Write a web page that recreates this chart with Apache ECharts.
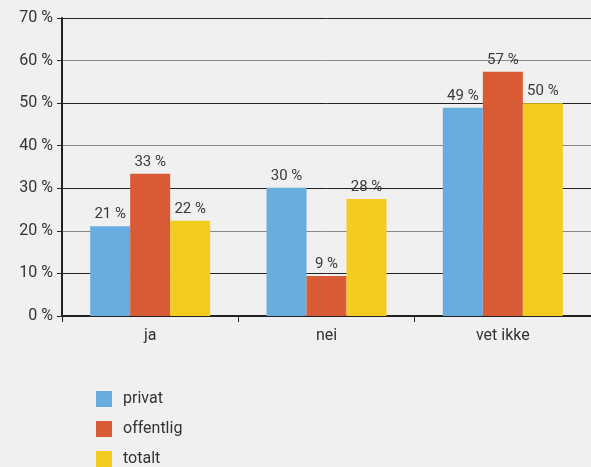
<!DOCTYPE html>
<html><head><meta charset="utf-8">
<script src="https://cdn.jsdelivr.net/npm/echarts@6/dist/echarts.min.js"></script>
<style>html,body{margin:0;padding:0;background:#eff0ef;}#c{width:591px;height:467px;}</style>
</head><body><div id="c"></div>
<script>
const categories = ['ja', 'nei', 'vet ikke'];
const privat = [21.1, 30.1, 48.9];
const offentlig = [33.4, 9.4, 57.4];
const totalt = [22.4, 27.5, 50.0];
const yTicks = [0, 10, 20, 30, 40, 50, 60, 70];
const seriesNames = ['privat', 'offentlig', 'totalt'];
const colors = ['#68ade0', '#d95b36', '#f3cc1f'];

const font = 'Roboto';
const chart = echarts.init(document.getElementById('c'));
const lbl = {show: true, position: 'top', distance: 4, color: '#3a3a3a', fontFamily: font, fontSize: 15,
  formatter: p => Math.round(p.value) + ' %'};
chart.setOption({
  backgroundColor: '#eff0ef',
  animation: false,
  grid: {left: 62, right: 0, top: 18, bottom: 151},
  legend: {orient: 'vertical', left: 96, top: 391, padding: 0, itemWidth: 16, itemHeight: 16, itemGap: 14,
    icon: 'rect', textStyle: {fontFamily: font, fontSize: 16, color: '#333', padding: [0, 0, 0, 6]}, data: seriesNames},
  xAxis: {type: 'category', data: categories,
    axisLine: {lineStyle: {color: '#222', width: 2}},
    axisTick: {show: true, length: 6, lineStyle: {color: '#222', width: 1}},
    axisLabel: {fontFamily: font, fontSize: 16, color: '#333', margin: 12}},
  yAxis: {type: 'value', min: yTicks[0], max: yTicks[yTicks.length-1], interval: 10,
    axisLine: {show: true, lineStyle: {color: '#222', width: 2}},
    axisTick: {show: true, length: 5, lineStyle: {color: '#222'}},
    axisLabel: {fontFamily: font, fontSize: 16, color: '#333', margin: 9, formatter: v => v + ' %'},
    splitLine: {lineStyle: {color: ['#222', '#222', '#888', '#222', '#888', '#222', '#888', '#222'], width: 1}}},
  series: [
    {name: seriesNames[0], type: 'bar', data: privat, barWidth: 40, barGap: '0%', itemStyle: {color: colors[0]}, label: lbl},
    {name: seriesNames[1], type: 'bar', data: offentlig, barWidth: 40, barGap: '0%', itemStyle: {color: colors[1]}, label: lbl},
    {name: seriesNames[2], type: 'bar', data: totalt, barWidth: 40, barGap: '0%', itemStyle: {color: colors[2]}, label: lbl}
  ]
});
</script></body></html>
